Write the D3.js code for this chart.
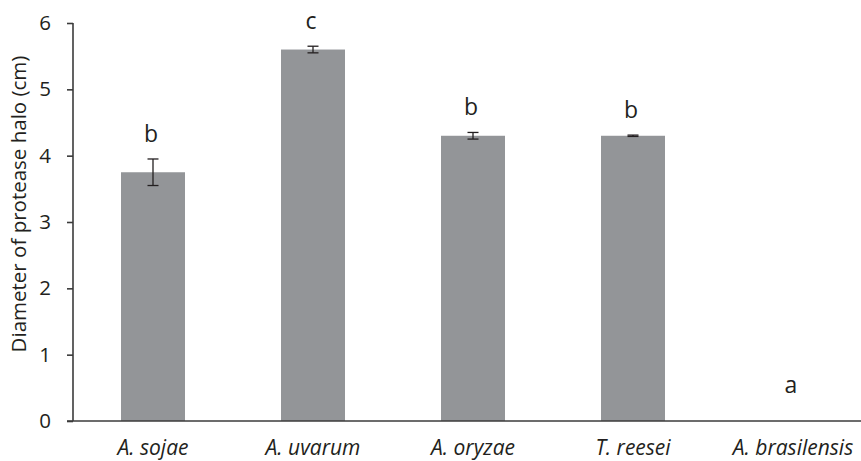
<!DOCTYPE html>
<html><head><meta charset="utf-8">
<script src="https://cdn.jsdelivr.net/npm/d3@7"></script>
<style>html,body{margin:0;padding:0;background:#fff;overflow:hidden}</style>
</head><body>
<svg id="chart" width="861" height="461"></svg>
<script>
const categories = ["A. sojae", "A. uvarum", "A. oryzae", "T. reesei", "A. brasilensis"];
const means = [3.75, 5.60, 4.30, 4.30, 0];
const errors = [0.20, 0.05, 0.05, 0.01, 0];
const letters = ["b", "c", "b", "b", "a"];
const yTicks = [0, 1, 2, 3, 4, 5, 6];
const yTitle = "Diameter of protease halo (cm)";

const svg = d3.select("#chart");
const font = "'Open Sans', sans-serif";
const axisColor = "#3b3b3b";
const textColor = "#231f20";

const x = d3.scaleBand().domain(categories).range([73, 873]).paddingInner(0.6).paddingOuter(0.3);
const y = d3.scaleLinear().domain([0, 6]).range([421, 23]);

// bars
svg.append("g").selectAll("rect").data(categories).join("rect")
  .attr("x", d => x(d))
  .attr("width", x.bandwidth())
  .attr("y", (d, i) => y(means[i]))
  .attr("height", (d, i) => y(0) - y(means[i]))
  .attr("fill", "#939598");

// error bars
const eb = svg.append("g").attr("stroke", "#231f20").attr("stroke-width", 1.3);
categories.forEach((c, i) => {
  if (errors[i] <= 0) return;
  const cx = x(c) + x.bandwidth() / 2;
  const hi = y(means[i] + errors[i]), lo = y(means[i] - errors[i]);
  if (hi < lo - 1) {
    eb.append("line").attr("x1", cx).attr("x2", cx).attr("y1", hi).attr("y2", lo);
  }
  eb.append("line").attr("x1", cx - 5.5).attr("x2", cx + 5.5).attr("y1", hi).attr("y2", hi);
  eb.append("line").attr("x1", cx - 5.5).attr("x2", cx + 5.5).attr("y1", lo).attr("y2", lo);
});

// significance letters
svg.append("g").selectAll("text").data(categories).join("text")
  .attr("x", d => x(d) + x.bandwidth() / 2 - 2)
  .attr("y", (d, i) => Math.min(y(means[i] + errors[i]) - 17, y(0) - 28))
  .attr("text-anchor", "middle")
  .attr("font-family", font).attr("font-size", 23).attr("fill", textColor)
  .text((d, i) => letters[i]);

// y axis
const yAxis = svg.append("g").attr("transform", "translate(73,0)")
  .call(d3.axisLeft(y).tickValues(yTicks).tickSize(6).tickPadding(16).tickFormat(d3.format("d")));
yAxis.select(".domain").attr("stroke", axisColor).attr("stroke-width", 1.6).attr("d", "M0,23V421");
yAxis.selectAll(".tick line").attr("stroke", axisColor).attr("stroke-width", 1.6);
yAxis.selectAll(".tick text").attr("font-family", font).attr("font-size", 20.5).attr("fill", textColor);

// x axis
const xAxis = svg.append("g").attr("transform", "translate(0,421)")
  .call(d3.axisBottom(x).tickSize(0).tickPadding(19));
xAxis.select(".domain").attr("stroke", axisColor).attr("stroke-width", 1.6).attr("d", "M67,0H873");
xAxis.selectAll(".tick text").attr("font-family", font).attr("font-size", 21)
  .attr("font-style", "italic").attr("fill", textColor);

// y title
svg.append("text")
  .attr("transform", "translate(26,204) rotate(-90)")
  .attr("text-anchor", "middle")
  .attr("font-family", font).attr("font-size", 20.5).attr("fill", textColor)
  .text(yTitle);
</script>
</body></html>
